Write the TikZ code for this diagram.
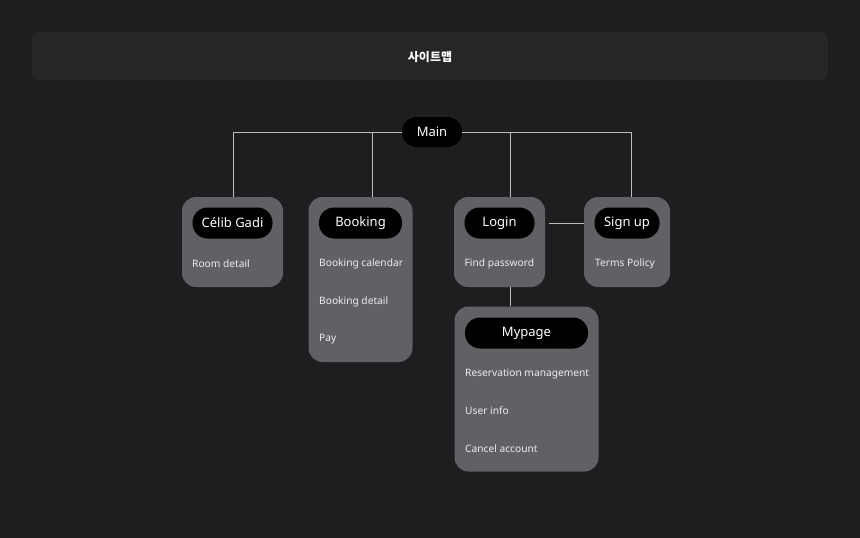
\documentclass[tikz,border=0pt]{standalone}
\usepackage{fontspec}
\setmainfont{Noto Sans}
\newfontfamily\kr{Noto Sans CJK KR}
\usetikzlibrary{positioning}

\definecolor{bgdark}{HTML}{1E1E20}
\definecolor{headbar}{HTML}{262628}
\definecolor{cardgray}{HTML}{606165}
\definecolor{linkgray}{HTML}{BDBDBD}
\definecolor{itemtext}{HTML}{EDEDED}

\tikzset{
    card/.style={fill=cardgray, rounded corners=14pt, inner sep=0pt},
    pill/.style={fill=black, text=white, rounded corners=15pt, minimum height=31pt,
        inner sep=0pt, font=\fontsize{13}{15}\selectfont},
    item/.style={anchor=west, text=itemtext, inner sep=0pt, font=\fontsize{10.2}{12}\selectfont},
    link/.style={draw=linkgray, line width=0.9pt}
}

\begin{document}
\begin{tikzpicture}[x=1pt, y=-1pt]

    % Sfondo e titolo
    \fill[bgdark] (0,0) rectangle (860,538);
    \useasboundingbox (0,0) rectangle (860,538);
    \node[fill=headbar, rounded corners=8pt, minimum width=796pt, minimum height=48pt] (head) at (430,56) {};
    \node[text=white, font=\kr\bfseries\fontsize{12}{14}\selectfont] (title) at (430,57) {사이트맵};

    % Radice
    \node[pill, minimum width=60pt, minimum height=30pt] (main) at (432,132) {\raisebox{-1pt}{Main}};

    % Schede
    \node[card, minimum width=101pt, minimum height=90pt] (celib) at (232.5,242) {};
    \node[card, minimum width=104pt, minimum height=165pt] (booking) at (360.5,279.5) {};
    \node[card, minimum width=91pt, minimum height=90pt] (login) at (499.5,242) {};
    \node[card, minimum width=86pt, minimum height=90pt] (signup) at (627,242) {};
    \node[card, minimum width=144pt, minimum height=165pt] (mypage) at (526.5,389) {};

    % Titoli delle schede
    \node[pill, minimum width=80pt] (celibT) at (232.5,223) {\raisebox{-1pt}{Célib Gadi}};
    \node[pill, minimum width=83pt] (bookingT) at (360.5,223) {\raisebox{-1pt}{Booking}};
    \node[pill, minimum width=70pt] (loginT) at (499.5,223) {\raisebox{-1pt}{Login}};
    \node[pill, minimum width=65pt] (signupT) at (627,223) {\raisebox{-1pt}{Sign up}};
    \node[pill, minimum width=123pt] (mypageT) at (526.5,333) {\raisebox{-1pt}{Mypage}};

    % Voci
    \node[item] (room) at (192,264) {Room detail};
    \node[item] (calendar) at (319,264) {Booking calendar};
    \node[item] (detail) at (319,302) {Booking detail};
    \node[item] (pay) at (319,339) {Pay};
    \node[item] (findpw) at (464.5,264) {Find password};
    \node[item] (terms) at (595,264) {Terms Policy};
    \node[item] (reserv) at (465,374) {Reservation management};
    \node[item] (userinfo) at (465,411) {User info};
    \node[item] (cancel) at (465,449) {Cancel account};

    % Punti di discesa
    \coordinate (dropA) at (233,0);
    \coordinate (dropB) at (372,0);
    \coordinate (dropC) at (510,0);
    \coordinate (dropD) at (631,0);
    \coordinate (loginR) at (549,223);

    % Collegamenti
    \draw[link] 
        (main.west) -| (celib.north -| dropA);

    \draw[link] 
        (main.west) -| (booking.north -| dropB);

    \draw[link] 
        (main.east) -| (login.north -| dropC);

    \draw[link] 
        (main.east) -| (signup.north -| dropD);

    \draw[link] 
        (loginR) -- (signup.west |- loginR);

    \draw[link] 
        (login.south -| dropC) -- (mypage.north -| dropC);

\end{tikzpicture}
\end{document}
